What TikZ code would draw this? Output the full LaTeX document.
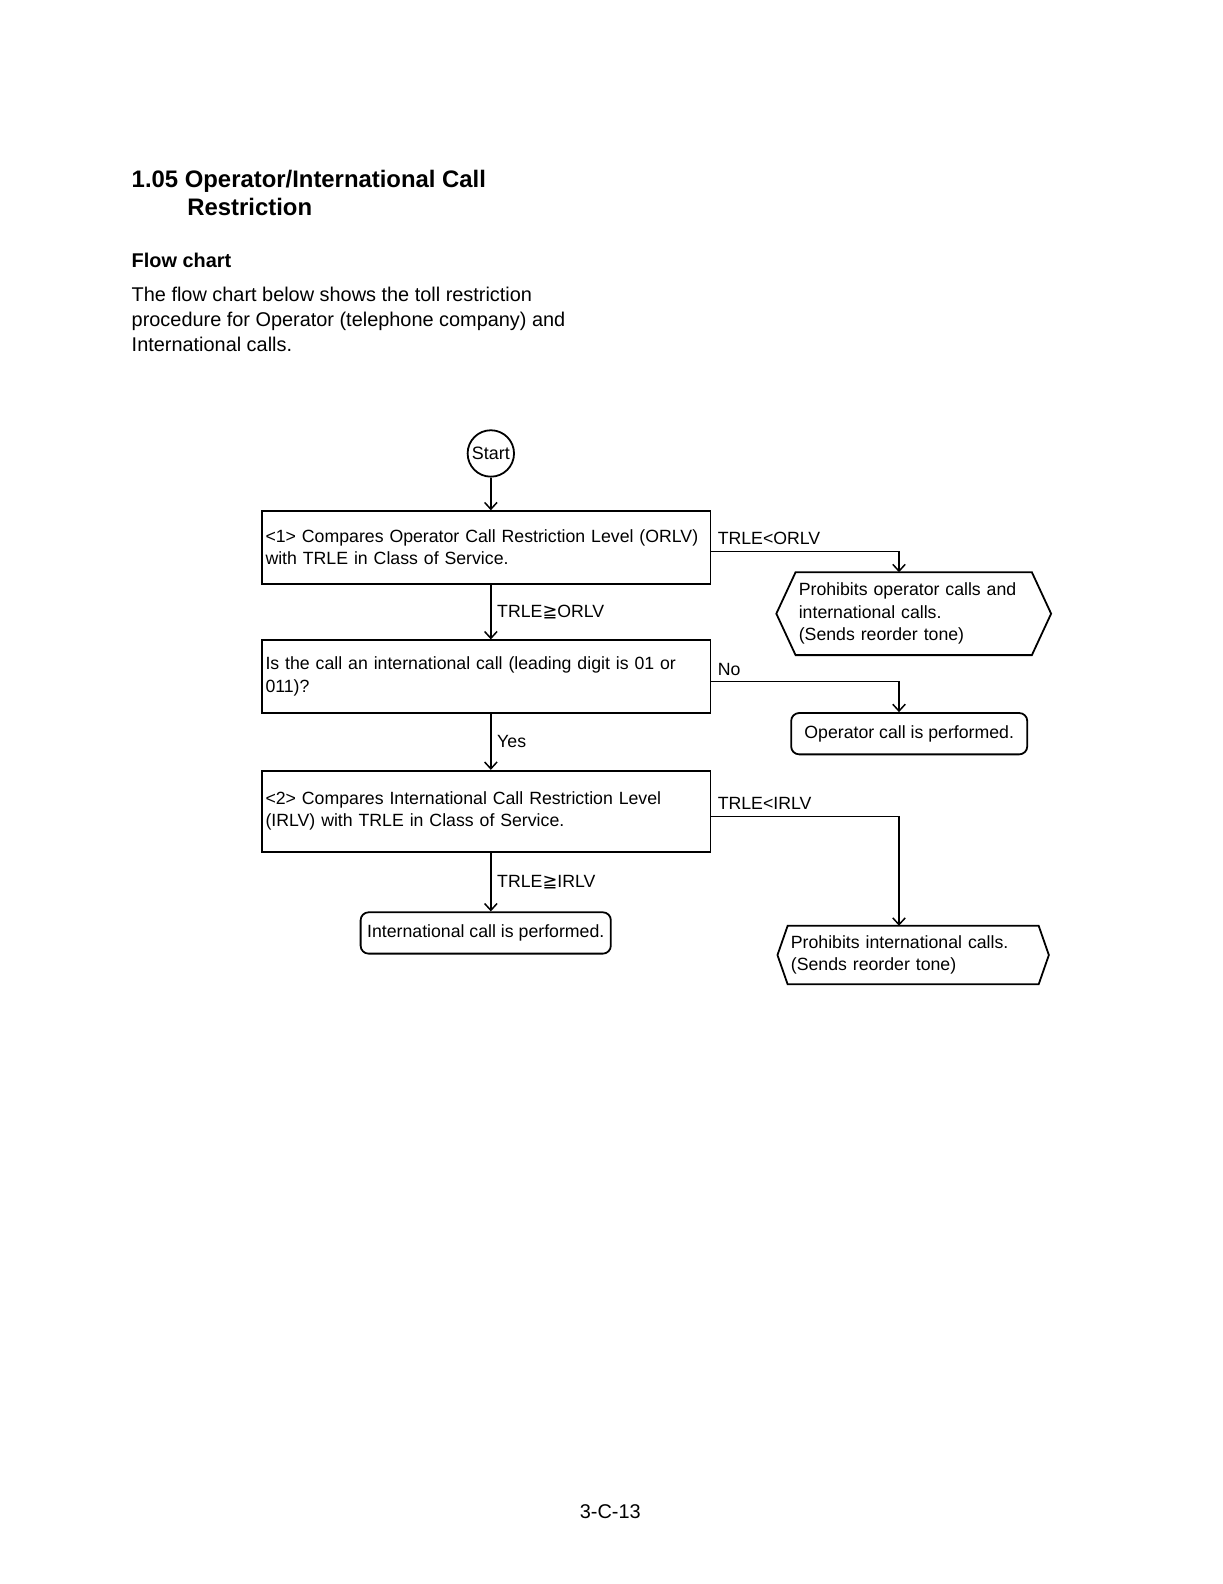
\documentclass[tikz,border=0pt]{standalone}
\usepackage{fontspec}
\setmainfont{Liberation Sans}
\newfontfamily\symfont{DejaVu Sans}
\usetikzlibrary{arrows.meta,calc,positioning}
\newcommand{\geqsym}{{\symfont ≧}}

\begin{document}
\begin{tikzpicture}[
  box/.style={draw,line width=0.9pt,align=left,text width=7.8cm,inner xsep=0.06cm,minimum height=1.28cm,font=\fontsize{8.9}{11.2}\selectfont},
  endbox/.style={draw,line width=0.9pt,rounded corners=4pt,minimum height=0.73cm,inner xsep=0.1cm,font=\fontsize{8.9}{11.2}\selectfont},
  hexbox/.style={align=left,inner xsep=0.05cm,font=\fontsize{8.9}{11.2}\selectfont},
  lbl/.style={font=\fontsize{8.9}{11.2}\selectfont,inner sep=0.1cm},
  head/.style={anchor=base west,inner sep=0,align=left},
  arr/.style={-{Straight Barb[length=1.2mm,width=2.2mm]},line width=0.75pt}
]
\useasboundingbox (0,0) rectangle (21.59,-27.98);

% page heading
\node[head,font=\fontsize{12}{14}\selectfont\bfseries] (title) at (2.32,-3.80) {1.05 Operator/International Call\\\hspace*{28pt}Restriction};
\node[head,font=\fontsize{10}{12}\selectfont\bfseries] (sub) at (2.32,-4.73) {Flow chart};
\node[head,font=\fontsize{10}{12.6}\selectfont] (intro) at (2.32,-6.21) {The flow chart below shows the toll restriction\\procedure for Operator (telephone company) and\\International calls.};

% main column
\node[draw,circle,line width=0.9pt,minimum size=0.82cm,inner sep=0,font=\fontsize{9}{11}\selectfont] (start) at (8.67,-8.01) {Start};
\node[box] (b1) at (8.59,-9.67) {<1> Compares Operator Call Restriction Level (ORLV)\\with TRLE in Class of Service.};
\node[box] (b2) at (8.59,-11.95) {Is the call an international call (leading digit is 01 or\\011)?};
\node[box,minimum height=1.43cm] (b3) at (8.59,-14.33) {<2> Compares International Call Restriction Level\\(IRLV) with TRLE in Class of Service.};
\node[endbox,minimum width=4.42cm] (intl) at (8.58,-16.48) {International call is performed.};

% right column
\node[hexbox,text width=4.06cm,minimum height=1.45cm] (h1) at (16.14,-10.84) {Prohibits operator calls and\\international calls.\\(Sends reorder tone)};
\node[endbox,minimum width=4.17cm] (oper) at (16.06,-12.96) {Operator call is performed.};
\node[hexbox,text width=4.32cm,minimum height=1.02cm] (h2) at (16.13,-16.87) {Prohibits international calls.\\(Sends reorder tone)};
\draw[line width=0.9pt] (h1.north west) -- (h1.north east) -- ([xshift=0.34cm]h1.east) -- (h1.south east) -- (h1.south west) -- ([xshift=-0.34cm]h1.west) -- cycle;
\draw[line width=0.9pt] (h2.north west) -- (h2.north east) -- ([xshift=0.18cm]h2.east) -- (h2.south east) -- (h2.south west) -- ([xshift=-0.18cm]h2.west) -- cycle;

\node[font=\fontsize{10}{12}\selectfont] (page) at (10.78,-26.71) {3-C-13};

\draw[arr] (start) -- (start |- b1.north);
\draw[arr] (b1.south -| start) -- node[lbl,right] {TRLE\geqsym ORLV} (b2.north -| start);
\draw[arr] (b2.south -| start) -- node[lbl,right] {Yes} (b3.north -| start);
\draw[arr] (b3.south -| start) -- node[lbl,right] {TRLE\geqsym IRLV} (intl.north -| start);
\draw[arr] ([yshift=-0.07cm]b1.east) -| node[lbl,pos=0,above right] {TRLE<ORLV} ([xshift=-0.26cm]h1.north);
\draw[arr] ([yshift=-0.09cm]b2.east) -| node[lbl,pos=0,above right] {No} ([xshift=-0.18cm]oper.north);
\draw[arr] ([yshift=-0.09cm]b3.east) -| node[lbl,pos=0,above right] {TRLE<IRLV} ([xshift=-0.25cm]h2.north);
\end{tikzpicture}
\end{document}
